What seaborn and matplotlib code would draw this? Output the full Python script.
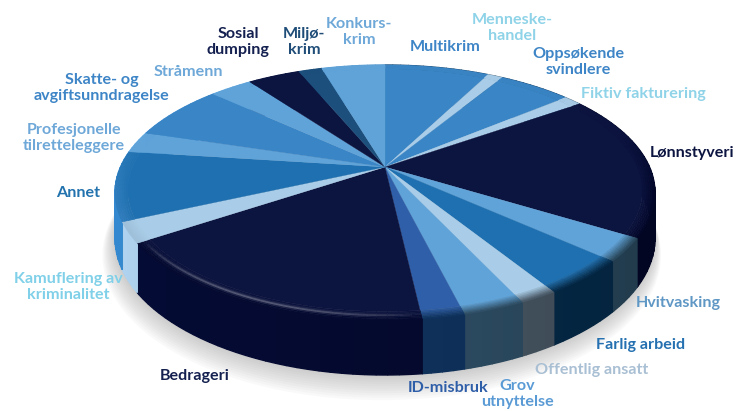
import numpy as np
import matplotlib
matplotlib.use("Agg")
import matplotlib.pyplot as plt
from matplotlib.colors import to_rgb
import seaborn as sns

# clockwise from 12 o'clock
categories = ["Multikrim", "Menneskehandel", "Oppsøkende svindlere", "Fiktiv fakturering",
              "Lønnstyveri", "Hvitvasking", "Farlig arbeid", "Offentlig ansatt",
              "Grov utnyttelse", "ID-misbruk", "Bedrageri", "Kamuflering av kriminalitet",
              "Annet", "Profesjonelle tilretteleggere", "Skatte- og avgiftsunndragelse",
              "Stråmenn", "Sosial dumping", "Miljøkrim", "Konkurskrim"]
values = [7.6, 1.1, 5.3, 1.3, 18.5, 2.9, 4.5, 1.9, 3.1, 2.1, 17.5, 2.6, 8.8, 2.7, 7.1, 3.1, 3.8, 1.7, 4.6]

top_colors = ["#3a85c5", "#a9cde8", "#3a85c5", "#a9cde8", "#0c1440", "#5fa3d9", "#1f70b0",
              "#a9cde8", "#5fa3d9", "#2f5fa8", "#0c1440", "#a9cde8", "#1f70b0", "#5fa3d9",
              "#3a85c5", "#5fa3d9", "#0c1440", "#1c4f7c", "#5fa3d9"]
wall_colors = ["#1c4f7c", "#5f7f98", "#1c4f7c", "#5f7f98", "#02072a", "#2a4a60", "#052c4c",
               "#4a5a68", "#2f5068", "#0f3460", "#040a30", "#9fc0da", "#2f7cbc", "#5fa3d9",
               "#3a85c5", "#5fa3d9", "#0c1440", "#1c4f7c", "#5fa3d9"]

label_text = ["Multikrim", "Menneske-\nhandel", "Oppsøkende\nsvindlere", "Fiktiv fakturering",
              "Lønnstyveri", "Hvitvasking", "Farlig arbeid", "Offentlig ansatt",
              "Grov\nutnyttelse", "ID-misbruk", "Bedrageri", "Kamuflering av\nkriminalitet",
              "Annet", "Profesjonelle\ntilretteleggere", "Skatte- og\navgiftsunndragelse",
              "Stråmenn", "Sosial\ndumping", "Miljø-\nkrim", "Konkurs-\nkrim"]
label_colors = ["#3d85c6", "#8fd3e8", "#3d85c6", "#8fd3e8", "#0c1440", "#5f97c5", "#2470b0",
                "#a9bfd3", "#5b9bd5", "#2f5ea8", "#14204f", "#7fd0e8", "#2272ae", "#6ea8d8",
                "#3d85c6", "#6ea8d8", "#14204f", "#1f4d78", "#6ea8d8"]
label_x = [445, 512, 578, 643, 692, 678, 641, 592, 517, 448, 195, 68, 78, 74, 102, 188, 238, 304, 359]
label_y = [47, 28, 62, 94, 153, 303, 345, 370, 394, 388, 376, 287, 193, 138, 88, 72, 42, 42, 32]

sns.set_theme(style="white")
plt.rcParams["font.family"] = ["Lato", "DejaVu Sans"]


def project(th, r=1.0, z=0.0):
    # th = degrees clockwise from the top of the disc, seen in perspective
    u = r * np.sin(np.radians(th))
    v = -r * np.cos(np.radians(th))
    w = 1 - 0.2 * v
    return 385 + 264.5 * u / w, (167 + 89 * v + 44 * z) / w


def band(th1, th2, r1, r2, z1=0.0, z2=0.0):
    t = np.linspace(th1, th2, max(int(abs(th2 - th1)) + 2, 3))
    x1, y1 = project(t, r1, z1)
    x2, y2 = project(t, r2, z2)
    return np.r_[x1, x2[::-1]], np.r_[y1, y2[::-1]]


fig = plt.figure(figsize=(7.36, 4.11), dpi=100)
ax = fig.add_axes([0, 0, 1, 1])

# the pie gives the wedge angles, they get redrawn in perspective below
wedges, _ = ax.pie(values, startangle=90, counterclock=False, colors=top_colors)
spans = [(90 - w.theta2, 90 - w.theta1) for w in wedges]
for w in wedges:
    w.remove()
ax.set_aspect("auto")
ax.set_xlim(0, 736)
ax.set_ylim(411, 0)
ax.axis("off")

# soft shadow under the disc
t = np.linspace(0, 360, 361)
for i in range(12):
    sx, sy = project(t, 1.0 + i * 0.003, 1.0 + i * 0.03)
    ax.fill(sx - i * 0.3, sy, color="#8a8a8a", alpha=0.045, lw=0, zorder=1)

# side wall, cut in slices so it can darken towards the right
for (a, b), col in zip(spans, wall_colors):
    base = np.array(to_rgb(col))
    for s in np.arange(a, b, 2.0):
        e = min(s + 2.0, b)
        x, y = band(s, e, 1.0, 1.0, 0.0, 1.0)
        m = 1.1 - 0.3 * (x.mean() - 116) / 540
        ax.fill(x, y, color=np.clip(base * m, 0, 1), lw=1.0, zorder=2)

# top face
for (a, b), col in zip(spans, top_colors):
    x, y = band(a, b, 0.0, 0.955)
    ax.fill(x, y, color=col, lw=0.2, zorder=3)

# rounded edge between top face and wall
rings = np.linspace(0.955, 1.0, 7)
for (a, b), col, wall in zip(spans, top_colors, wall_colors):
    shades = sns.blend_palette([col, wall], 7)
    for s in np.arange(a, b, 2.0):
        e = min(s + 2.0, b)
        v = -np.cos(np.radians((s + e) / 2))
        front = np.clip((v + 0.3) / 0.5, 0, 1)
        for k in range(6):
            c = np.array(to_rgb(col)) * (1 - front) + np.array(shades[k + 1]) * front
            x, y = band(s, e, rings[k], rings[k + 1])
            ax.fill(x, y, color=tuple(c), lw=0.4, zorder=4)

# thin highlight on the edge of the dark slice, fading out at both ends
a, b = spans[10]
steps = np.linspace(a, b, 41)
for s, e in zip(steps[:-1], steps[1:]):
    fade = np.sin(np.pi * ((s + e) / 2 - a) / (b - a)) ** 0.7
    hx, hy = project(np.array([s, e]), 0.975)
    ax.plot(hx, hy, color="white", alpha=0.1 * fade, lw=3, solid_capstyle="butt", zorder=5)
    ax.plot(hx, hy, color="white", alpha=0.22 * fade, lw=1.2, solid_capstyle="butt", zorder=5)

for txt, col, lx, ly in zip(label_text, label_colors, label_x, label_y):
    ax.text(lx, ly, txt, color=col, ha="center", va="center", fontsize=11.6,
            fontweight="bold", linespacing=1.2, zorder=6)

fig.savefig("out.png", dpi=100)
